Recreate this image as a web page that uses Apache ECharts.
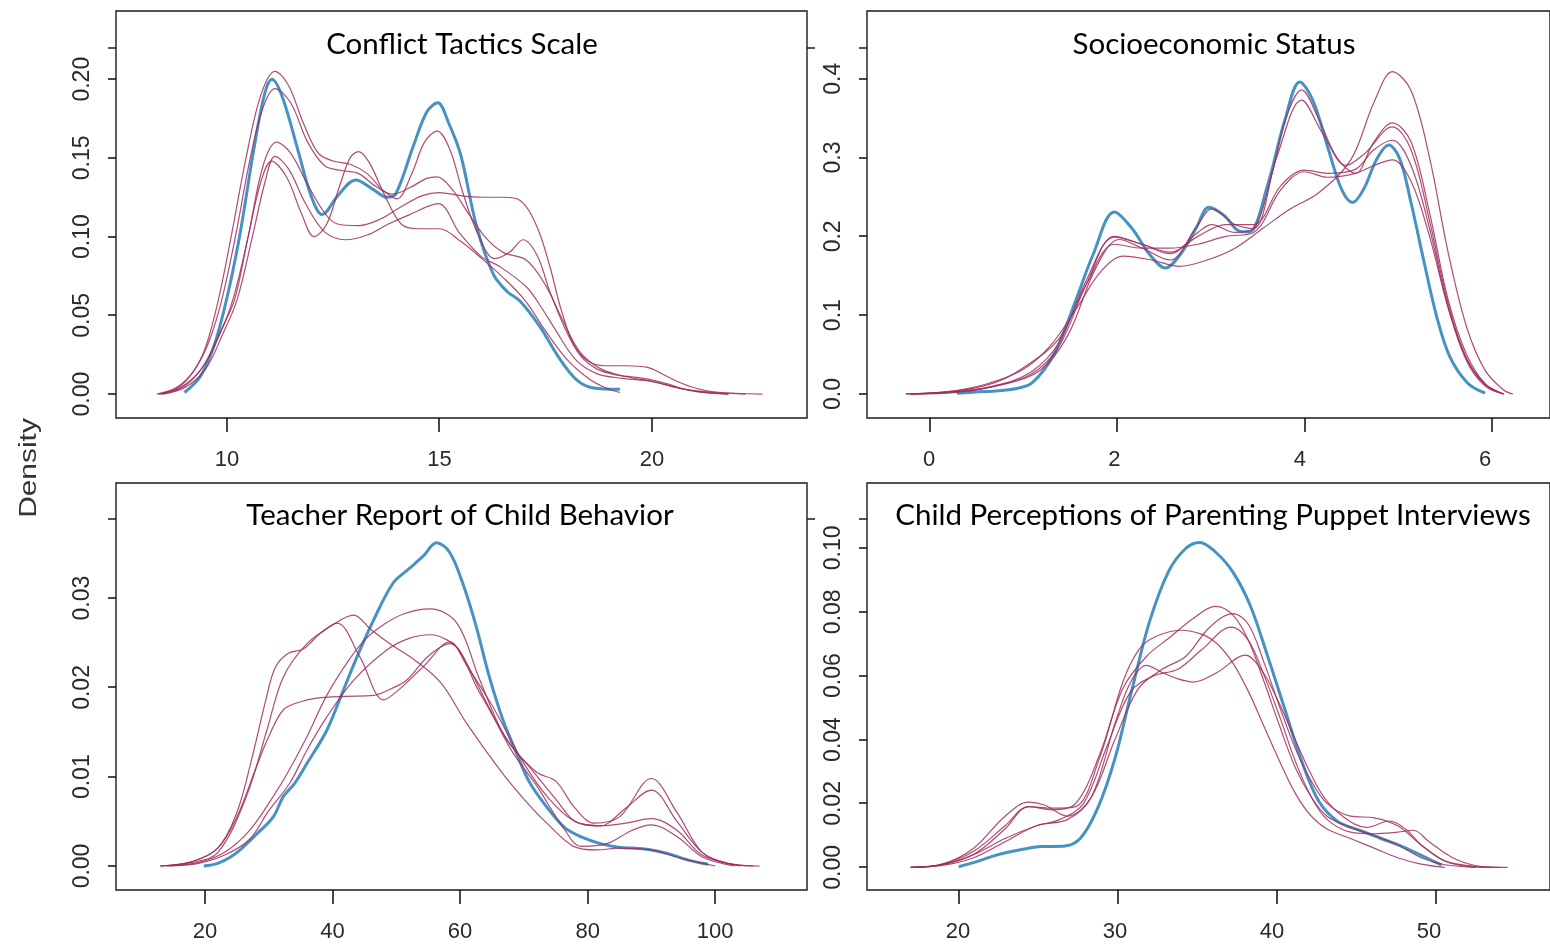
<!DOCTYPE html>
<html>
<head>
<meta charset="utf-8">
<script src="https://cdn.jsdelivr.net/npm/echarts@6/dist/echarts.min.js"></script>
<style>
html,body{margin:0;padding:0;background:#ffffff;}
#chart{width:1550px;height:950px;}
</style>
</head>
<body>
<div id="chart"></div>
<script>
// ---------- titles ----------
const panelTitles = [
  "Conflict Tactics Scale",
  "Socioeconomic Status",
  "Teacher Report of Child Behavior",
  "Child Perceptions of Parenting Puppet Interviews"
];
const yAxisTitle = "Density";

// ---------- tick values ----------
const xTicksCTS = [10, 15, 20];
const yTicksCTS = [0, 0.05, 0.10, 0.15, 0.20];
const xTicksSES = [0, 2, 4, 6];
const yTicksSES = [0, 0.1, 0.2, 0.3, 0.4];
const xTicksTRF = [20, 40, 60, 80, 100];
const yTicksTRF = [0, 0.01, 0.02, 0.03];
const xTicksPUP = [20, 30, 40, 50];
const yTicksPUP = [0, 0.02, 0.04, 0.06, 0.08, 0.10];

// ---------- Conflict Tactics Scale ----------
const ctsObserved = [[9.0,0.001],[9.37,0.011],[9.69,0.030],[10.0,0.061],[10.31,0.102],[10.63,0.155],[10.89,0.191],[11.06,0.200],[11.30,0.189],[11.67,0.155],[11.98,0.126],[12.24,0.114],[12.61,0.126],[13.03,0.136],[13.44,0.130],[13.76,0.125],[13.97,0.127],[14.38,0.157],[14.70,0.179],[14.96,0.185],[15.22,0.172],[15.5,0.152],[15.88,0.106],[16.27,0.076],[16.6,0.065],[16.9,0.059],[17.36,0.043],[17.84,0.022],[18.23,0.009],[18.6,0.004],[19.25,0.003]];
const ctsImp1 = [[8.35,0],[8.8,0.004],[9.2,0.014],[9.5,0.03],[9.8,0.06],[10.1,0.1],[10.45,0.15],[10.8,0.19],[11.13,0.205],[11.45,0.196],[11.8,0.172],[12.15,0.153],[12.5,0.148],[12.9,0.146],[13.3,0.14],[13.65,0.13],[14.0,0.124],[14.35,0.14],[14.65,0.16],[14.95,0.167],[15.25,0.155],[15.55,0.128],[15.9,0.102],[16.3,0.086],[16.65,0.09],[16.97,0.098],[17.3,0.088],[17.6,0.065],[17.95,0.042],[18.3,0.025],[18.7,0.016],[19.2,0.012],[19.8,0.01],[20.3,0.007],[20.8,0.003],[21.5,0.001],[22.2,0]];
const ctsImp2 = [[8.4,0],[8.9,0.005],[9.3,0.018],[9.6,0.035],[9.88,0.06],[10.2,0.1],[10.55,0.15],[10.85,0.182],[11.13,0.194],[11.5,0.185],[11.9,0.16],[12.3,0.145],[12.7,0.142],[13.1,0.14],[13.5,0.132],[13.9,0.127],[14.3,0.131],[14.7,0.137],[14.95,0.138],[15.3,0.13],[15.7,0.114],[16.1,0.099],[16.5,0.09],[17.05,0.085],[17.5,0.069],[17.9,0.047],[18.3,0.027],[18.8,0.016],[19.4,0.011],[20.0,0.008],[20.6,0.004],[21.2,0.0012],[21.8,0]];
const ctsImp3 = [[8.4,0],[8.9,0.004],[9.4,0.016],[9.8,0.036],[10.14,0.06],[10.5,0.1],[10.85,0.145],[11.17,0.16],[11.5,0.153],[11.9,0.133],[12.3,0.115],[12.6,0.108],[13.1,0.107],[13.6,0.111],[14.1,0.119],[14.6,0.126],[15.0,0.128],[15.5,0.126],[16.0,0.125],[16.5,0.125],[16.9,0.123],[17.3,0.106],[17.6,0.081],[17.85,0.055],[18.15,0.032],[18.5,0.021],[18.9,0.018],[19.4,0.018],[19.9,0.017],[20.3,0.012],[20.6,0.008],[21.0,0.004],[21.5,0.0013],[22.6,0]];
const ctsImp4 = [[8.45,0],[9.0,0.004],[9.5,0.016],[9.9,0.038],[10.24,0.06],[10.6,0.1],[10.9,0.135],[11.13,0.151],[11.45,0.143],[11.85,0.121],[12.3,0.103],[12.8,0.098],[13.3,0.101],[13.8,0.108],[14.3,0.114],[14.97,0.121],[15.48,0.102],[16.0,0.087],[16.42,0.081],[17.05,0.068],[17.4,0.055],[17.68,0.043],[18.2,0.022],[18.7,0.013],[19.3,0.01],[20.0,0.008],[20.6,0.004],[21.2,0.001],[21.8,0]];
const ctsImp5 = [[8.5,0],[9.0,0.005],[9.45,0.018],[9.85,0.04],[10.18,0.06],[10.5,0.1],[10.8,0.135],[11.05,0.148],[11.4,0.138],[11.75,0.115],[12.05,0.1],[12.35,0.108],[12.65,0.132],[12.9,0.15],[13.1,0.154],[13.35,0.147],[13.7,0.127],[14.1,0.108],[14.5,0.105],[15.0,0.105],[15.5,0.097],[16.0,0.086],[16.5,0.074],[17.0,0.06],[17.5,0.04],[18.0,0.022],[18.5,0.01],[18.9,0.004],[19.25,0.001]];

// ---------- Socioeconomic Status ----------
const sesObserved = [[0.3,0.001],[0.6,0.003],[0.9,0.006],[1.11,0.014],[1.35,0.051],[1.58,0.118],[1.77,0.177],[2.0,0.231],[2.19,0.21],[2.38,0.177],[2.55,0.16],[2.71,0.177],[2.88,0.21],[3.02,0.237],[3.18,0.227],[3.37,0.206],[3.46,0.206],[3.65,0.264],[3.84,0.348],[4.0,0.396],[4.14,0.373],[4.31,0.31],[4.45,0.26],[4.57,0.243],[4.69,0.26],[4.83,0.298],[4.96,0.316],[5.08,0.298],[5.2,0.243],[5.34,0.168],[5.48,0.097],[5.62,0.047],[5.81,0.014],[6.0,0.001]];
const sesImp1 = [[-0.25,0],[0.2,0.003],[0.6,0.012],[1.0,0.03],[1.3,0.06],[1.6,0.11],[1.85,0.155],[2.1,0.175],[2.4,0.17],[2.7,0.162],[3.0,0.17],[3.3,0.185],[3.6,0.21],[3.9,0.235],[4.2,0.255],[4.55,0.297],[4.8,0.37],[5.0,0.409],[5.2,0.385],[5.4,0.3],[5.6,0.18],[5.8,0.085],[6.0,0.03],[6.2,0.005],[6.3,0]];
const sesImp2 = [[-0.2,0],[0.3,0.003],[0.7,0.01],[1.1,0.025],[1.4,0.06],[1.7,0.14],[2.0,0.2],[2.3,0.19],[2.6,0.178],[2.9,0.205],[3.05,0.215],[3.3,0.205],[3.5,0.21],[3.7,0.28],[3.85,0.35],[4.02,0.386],[4.2,0.35],[4.4,0.3],[4.6,0.28],[4.8,0.32],[5.0,0.344],[5.2,0.32],[5.4,0.23],[5.6,0.12],[5.8,0.05],[6.0,0.013],[6.2,0]];
const sesImp3 = [[-0.2,0],[0.3,0.002],[0.8,0.012],[1.2,0.03],[1.5,0.075],[1.8,0.16],[2.05,0.196],[2.3,0.185],[2.6,0.17],[2.9,0.215],[3.05,0.235],[3.3,0.215],[3.5,0.21],[3.75,0.3],[4.02,0.373],[4.25,0.33],[4.5,0.29],[4.7,0.305],[5.0,0.339],[5.2,0.31],[5.4,0.22],[5.6,0.115],[5.8,0.045],[6.0,0.012],[6.2,0]];
const sesImp4 = [[-0.25,0],[0.3,0.004],[0.7,0.014],[1.0,0.032],[1.4,0.07],[1.7,0.14],[2.0,0.19],[2.3,0.185],[2.6,0.185],[2.9,0.19],[3.2,0.2],[3.5,0.205],[3.8,0.26],[4.05,0.282],[4.3,0.275],[4.6,0.28],[4.8,0.29],[5.0,0.297],[5.2,0.27],[5.4,0.2],[5.6,0.11],[5.8,0.045],[6.0,0.012],[6.2,0]];
const sesImp5 = [[-0.2,0],[0.3,0.003],[0.7,0.01],[1.1,0.028],[1.4,0.065],[1.7,0.145],[2.0,0.199],[2.3,0.19],[2.6,0.18],[2.9,0.2],[3.2,0.215],[3.5,0.215],[3.8,0.265],[4.05,0.284],[4.3,0.28],[4.6,0.285],[4.8,0.31],[5.0,0.322],[5.2,0.29],[5.4,0.21],[5.6,0.11],[5.8,0.042],[6.0,0.01],[6.2,0]];

// ---------- Teacher Report of Child Behavior ----------
const trfObserved = [[19.8,0],[22,0.0003],[24,0.001],[25.5,0.0018],[28,0.0035],[30.7,0.0055],[32.3,0.0078],[34,0.0092],[36,0.0115],[39.1,0.0152],[41.7,0.0197],[44,0.0237],[46.4,0.0275],[49.5,0.0317],[52,0.0333],[54.2,0.0347],[56.3,0.0362],[58.3,0.0352],[60.4,0.0317],[62.5,0.0269],[64.5,0.0214],[66.6,0.0166],[68.7,0.0129],[70.8,0.0095],[73.6,0.0066],[76.4,0.0043],[79.2,0.0032],[82.0,0.0025],[84.8,0.0021],[89.0,0.0019],[92.5,0.0014],[96.1,0.0006],[98.9,0.0002]];
const trfImp1 = [[13,0],[18,0.0005],[22,0.002],[25,0.006],[27.5,0.0125],[29.5,0.0185],[31,0.0222],[33,0.0238],[35.4,0.0243],[38,0.026],[40.7,0.0272],[44.3,0.0234],[48,0.0186],[50,0.0195],[54.2,0.0223],[58.4,0.0251],[61,0.0225],[65,0.018],[70,0.0115],[74,0.0075],[78,0.005],[82,0.0045],[86,0.0065],[90,0.0085],[94,0.005],[98,0.0015],[102,0.0003],[106,0]];
const trfImp2 = [[13,0],[18,0.0004],[22,0.0015],[26.5,0.0078],[29.7,0.0152],[32.3,0.0212],[36,0.0249],[40,0.027],[43.3,0.0281],[46,0.0265],[49,0.0249],[53,0.023],[57,0.0205],[61,0.016],[66.3,0.0107],[70,0.0075],[73.6,0.0048],[77.8,0.0022],[81.4,0.0018],[85,0.002],[90,0.0018],[95,0.0008],[100,0]];
const trfImp3 = [[13,0],[18,0.0005],[22,0.002],[25,0.0055],[28,0.011],[30,0.0145],[32.3,0.0175],[35,0.0184],[37.5,0.0188],[42,0.019],[46.4,0.0191],[49,0.0198],[51.6,0.0208],[55,0.0235],[58.4,0.0249],[63,0.0195],[68,0.0135],[72,0.0105],[75,0.0095],[78,0.0065],[81,0.0048],[85,0.0055],[90,0.0098],[94,0.006],[98,0.0015],[102,0.0003],[107,0]];
const trfImp4 = [[14,0],[19,0.0004],[23,0.0015],[27,0.004],[30.7,0.0078],[33,0.0105],[36,0.0145],[39,0.019],[42.2,0.0227],[45,0.0253],[47.5,0.0268],[51,0.0282],[55.3,0.0288],[59.5,0.0272],[63,0.021],[67,0.0145],[71,0.011],[75,0.0075],[78,0.005],[82,0.0045],[86,0.0048],[90,0.0053],[94,0.004],[98,0.0012],[104,0]];
const trfImp5 = [[14,0],[19,0.0003],[23,0.0012],[27,0.003],[30,0.0062],[33.3,0.0093],[36,0.013],[39.1,0.0167],[43.3,0.0208],[48.5,0.0242],[52,0.0255],[55.3,0.0259],[58,0.0253],[60,0.024],[64,0.0185],[68,0.013],[72,0.009],[76,0.0045],[79,0.0022],[83,0.0025],[87,0.004],[90,0.0046],[94,0.0033],[98,0.001],[103,0]];

// ---------- Child Perceptions of Parenting Puppet Interviews ----------
const pupObserved = [[20.05,0.0002],[21.2,0.0018],[22.5,0.0039],[23.9,0.0054],[25.3,0.0065],[26.7,0.0066],[27.8,0.0091],[28.9,0.0185],[30.0,0.0341],[31.1,0.056],[32.2,0.0769],[33.4,0.0925],[34.5,0.0998],[35.4,0.1017],[36.4,0.0987],[37.5,0.0925],[38.6,0.0821],[39.7,0.0664],[40.8,0.0497],[41.9,0.0331],[43.0,0.0205],[44.2,0.0143],[45.5,0.0117],[46.9,0.0091],[48.3,0.0065],[49.7,0.0033],[50.8,0.0007]];
const pupImp1 = [[17,0],[19,0.0008],[21,0.004],[23,0.012],[24.5,0.019],[26,0.018],[27.5,0.02],[29,0.035],[30.5,0.056],[32,0.066],[33.5,0.072],[35,0.078],[36.4,0.0817],[37.5,0.079],[38.5,0.071],[39.5,0.058],[40.5,0.044],[41.5,0.031],[42.5,0.022],[43.5,0.016],[45,0.0125],[46.5,0.01],[48,0.007],[49.5,0.003],[51,0.0008],[53,0]];
const pupImp2 = [[17,0],[19,0.001],[21,0.006],[23,0.016],[24.5,0.0204],[25.5,0.0195],[27,0.016],[28.5,0.022],[30,0.04],[31.5,0.056],[33,0.062],[34.5,0.066],[36,0.075],[37.5,0.0794],[38.5,0.076],[39.5,0.064],[40.5,0.05],[41.5,0.037],[42.5,0.027],[43.5,0.02],[45,0.016],[46.5,0.0155],[48,0.013],[49.5,0.007],[51,0.002],[53,0.0003],[55,0]];
const pupImp3 = [[17,0],[19,0.0008],[21,0.004],[23,0.009],[25,0.013],[26.5,0.015],[28,0.02],[29.5,0.038],[31,0.055],[32.5,0.06],[34,0.062],[35.5,0.068],[37.4,0.0752],[38.5,0.071],[39.5,0.06],[40.5,0.047],[41.5,0.033],[42.5,0.022],[43.5,0.015],[45,0.011],[46.5,0.0105],[48,0.011],[49,0.0116],[50,0.008],[51.5,0.003],[53,0.0005],[54.5,0]];
const pupImp4 = [[17,0],[19,0.0006],[21,0.003],[23,0.008],[25,0.013],[27,0.015],[28.5,0.022],[30,0.045],[31,0.058],[32,0.0632],[33,0.061],[34,0.059],[35,0.058],[36.5,0.061],[38.3,0.0664],[39.3,0.062],[40.3,0.053],[41.3,0.042],[42.3,0.031],[43.3,0.022],[44.5,0.016],[46,0.0125],[47.5,0.0145],[48.5,0.012],[49.5,0.007],[51,0.002],[52.5,0.0003],[54,0]];
const pupImp5 = [[17,0],[19,0.001],[21,0.005],[23,0.013],[24.5,0.019],[26,0.0185],[27.5,0.019],[29,0.034],[30.5,0.058],[31.5,0.068],[32.5,0.072],[34.2,0.0742],[35.5,0.073],[36.5,0.07],[37.5,0.064],[38.5,0.055],[39.5,0.044],[40.5,0.033],[41.5,0.023],[42.5,0.016],[43.5,0.012],[45,0.009],[46.5,0.006],[48,0.003],[49.5,0.001],[51,0]];

// ---------- layout / style ----------
const BLUE = '#3b8cc0';
const RED = '#a02d5c';
const INK = '#1a1a1a';
const BOX = {w: 691, h: 407};
const gridPos = [
  {left: 116, top: 11},
  {left: 867, top: 11},
  {left: 116, top: 483},
  {left: 867, top: 483}
];
const xRanges = [[7.39, 23.65], [-0.67, 6.70], [6.04, 114.4], [14.21, 57.7]];
const yRanges = [[-0.0152, 0.2433], [-0.0305, 0.486], [-0.00269, 0.0429], [-0.0071, 0.1203]];
const xTicks = [xTicksCTS, xTicksSES, xTicksTRF, xTicksPUP];
const yTicks = [yTicksCTS, yTicksSES, yTicksTRF, yTicksPUP];
const yDecimals = [2, 1, 2, 2];
const panels = [
  [ctsObserved, ctsImp1, ctsImp2, ctsImp3, ctsImp4, ctsImp5],
  [sesObserved, sesImp1, sesImp2, sesImp3, sesImp4, sesImp5],
  [trfObserved, trfImp1, trfImp2, trfImp3, trfImp4, trfImp5],
  [pupObserved, pupImp1, pupImp2, pupImp3, pupImp4, pupImp5]
];
const titleCenters = [[462, 44], [1214, 44], [460, 515], [1213, 515]];
const X_TICK_LEN = 14, Y_TICK_LEN = 8;

const tickLabelColor = '#2a2a2a';
const grid = gridPos.map(g => ({
  left: g.left, top: g.top, width: BOX.w, height: BOX.h,
  show: true, borderColor: INK, borderWidth: 1.4, backgroundColor: 'transparent',
  containLabel: false
}));

const xAxis = xRanges.map((r, i) => ({
  type: 'value', gridIndex: i, min: r[0], max: r[1], position: 'bottom',
  axisLine: {show: false, onZero: false},
  splitLine: {show: false},
  axisTick: {show: false},
  axisLabel: {show: true, customValues: xTicks[i], margin: 31,
              fontSize: 22, fontFamily: '"Liberation Sans", Arial, sans-serif',
              color: tickLabelColor}
}));

const yAxis = yRanges.map((r, i) => ({
  type: 'value', gridIndex: i, min: r[0], max: r[1], position: 'left',
  axisLine: {show: false, onZero: false},
  splitLine: {show: false},
  axisTick: {show: false},
  axisLabel: {show: true, customValues: yTicks[i], rotate: 90, margin: 22,
              fontSize: 23, fontFamily: '"Liberation Sans", Arial, sans-serif',
              color: tickLabelColor,
              formatter: (v) => Number(v).toFixed(yDecimals[i])}
}));

const series = [];
panels.forEach((curves, p) => {
  curves.forEach((data, k) => {
    const observed = k === 0;
    series.push({
      type: 'line', xAxisIndex: p, yAxisIndex: p, data: data,
      showSymbol: false, symbol: 'none', smooth: 0.35, silent: true,
      clip: true,
      lineStyle: {color: observed ? BLUE : RED, width: observed ? 3 : 1.2, opacity: observed ? 0.95 : 0.85},
      z: observed ? 2 : 3
    });
  });
});

const graphic = [];
panelTitles.forEach((t, i) => {
  graphic.push({
    type: 'text', x: titleCenters[i][0], y: titleCenters[i][1], silent: true, z: 10,
    style: {text: t, align: 'center', verticalAlign: 'middle',
            font: '29.5px Lato, "Open Sans", sans-serif', fill: '#000'}
  });
});
graphic.push({
  type: 'text', x: 30, y: 468, rotation: Math.PI / 2, scaleX: 1.3, silent: true,
  style: {text: yAxisTitle, align: 'center', verticalAlign: 'middle',
          font: '23px "Liberation Sans", Arial, sans-serif', fill: '#333'}
});
// small strip-boundary marks on the panel edges
const stripOffsets = [37, 37, 36, 36];
gridPos.forEach((g, i) => {
  const y = g.top + stripOffsets[i];
  graphic.push({type: 'line', silent: true, shape: {x1: g.left - 8, y1: y, x2: g.left, y2: y},
                style: {stroke: INK, lineWidth: 1.5}});
  graphic.push({type: 'line', silent: true, shape: {x1: g.left + BOX.w, y1: y, x2: g.left + BOX.w + 8, y2: y},
                style: {stroke: INK, lineWidth: 1.5}});
});

// axis tick marks: linear mapping of each panel's axis range onto its box
gridPos.forEach((g, i) => {
  const bottom = g.top + BOX.h;
  const xr = xRanges[i], yr = yRanges[i];
  xTicks[i].forEach(v => {
    const px = Math.round(g.left + (v - xr[0]) / (xr[1] - xr[0]) * BOX.w);
    graphic.push({type: 'line', silent: true, z: 50,
      shape: {x1: px, y1: bottom, x2: px, y2: bottom + X_TICK_LEN},
      style: {stroke: INK, lineWidth: 1.6}});
  });
  yTicks[i].forEach(v => {
    const py = Math.round(bottom - (v - yr[0]) / (yr[1] - yr[0]) * BOX.h);
    graphic.push({type: 'line', silent: true, z: 50,
      shape: {x1: g.left - Y_TICK_LEN, y1: py, x2: g.left, y2: py},
      style: {stroke: INK, lineWidth: 1.6}});
  });
});

const chart = echarts.init(document.getElementById('chart'), null, {renderer: 'canvas'});
chart.setOption({
  animation: false,
  backgroundColor: '#ffffff',
  grid, xAxis, yAxis, series, graphic
});
</script>
</body>
</html>
